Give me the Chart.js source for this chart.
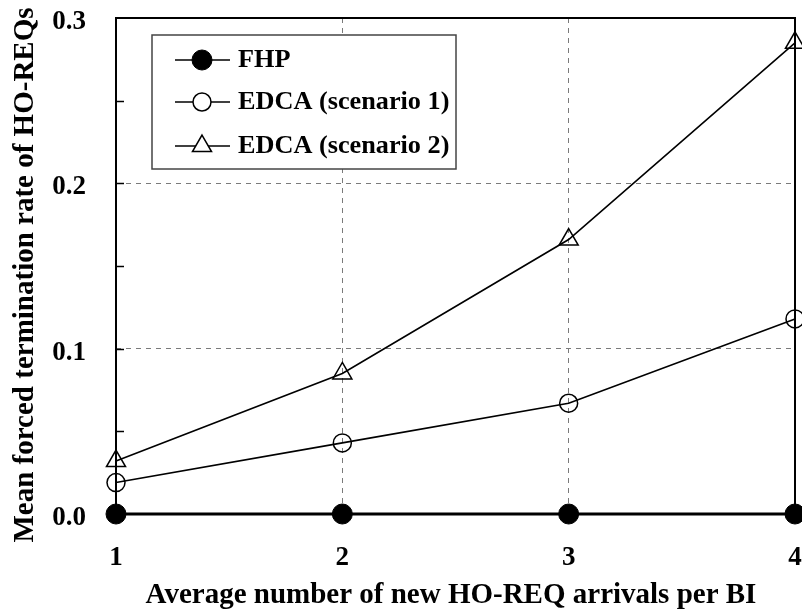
<!DOCTYPE html>
<html>
<head>
<meta charset="utf-8">
<script src="https://cdn.jsdelivr.net/npm/chart.js@4/dist/chart.umd.min.js"></script>
<style>
  html, body { margin: 0; padding: 0; background: #fff; }
  #wrap { width: 802px; height: 615px; position: relative; }
</style>
</head>
<body>
<div id="wrap"><canvas id="c" width="802" height="615"></canvas></div>
<script>
// Arrival rate per beacon interval (x) and mean forced termination rate (y)
const arrivals = [1, 2, 3, 4];
const fhp = [0, 0, 0, 0];
const edcaScenario1 = [0.019, 0.043, 0.067, 0.118];
const edcaScenario2 = [0.032, 0.085, 0.166, 0.285];
const seriesNames = ['FHP', 'EDCA (scenario 1)', 'EDCA (scenario 2)'];
const yTickValues = [0, 0.1, 0.2, 0.3];
const yTickLabels = ['0.0', '0.1', '0.2', '0.3'];
const xTickLabels = ['1', '2', '3', '4'];
const xTitle = 'Average number of new HO-REQ arrivals per BI';
const yTitle = 'Mean forced termination rate of HO-REQs';

const FONT = '"Liberation Serif", "Times New Roman", serif';

const toPoints = ys => arrivals.map((x, i) => ({ x, y: ys[i] }));

// Plot frame and inward ticks on the left axis, drawn beneath the data
const framePlugin = {
  id: 'frame',
  beforeDatasetsDraw(chart) {
    const { ctx, chartArea: a, scales } = chart;
    ctx.save();
    ctx.strokeStyle = '#000';
    ctx.lineWidth = 2;
    ctx.strokeRect(a.left, a.top, a.right - a.left, a.bottom - a.top);
    const y = scales.y;
    ctx.lineWidth = 1.5;
    for (let k = 1; k < 6; k++) {
      const py = Math.round(y.getPixelForValue(k * 0.05)) + 0.5;
      ctx.beginPath();
      ctx.moveTo(a.left, py);
      ctx.lineTo(a.left + 8, py);
      ctx.stroke();
    }
    ctx.restore();
  }
};

// Axis titles
const titlePlugin = {
  id: 'axisTitles',
  afterDraw(chart) {
    const { ctx } = chart;
    ctx.save();
    ctx.fillStyle = '#000';
    ctx.font = 'bold 29px ' + FONT;
    ctx.textAlign = 'center';
    ctx.textBaseline = 'alphabetic';
    ctx.fillText(xTitle, 451, 603);
    ctx.translate(33, 275);
    ctx.rotate(-Math.PI / 2);
    ctx.fillText(yTitle, 0, 0);
    ctx.restore();
  }
};

// Legend box with line + marker samples
const legendPlugin = {
  id: 'boxLegend',
  afterDatasetsDraw(chart) {
    const { ctx } = chart;
    const box = { x: 152, y: 35, w: 304, h: 134 };
    ctx.save();
    ctx.fillStyle = '#fff';
    ctx.fillRect(box.x, box.y, box.w, box.h);
    ctx.strokeStyle = '#444';
    ctx.lineWidth = 1.5;
    ctx.strokeRect(box.x, box.y, box.w, box.h);
    const rows = [60, 102, 146];
    chart.data.datasets.forEach((ds, i) => {
      const yy = rows[i];
      ctx.strokeStyle = '#000';
      ctx.lineWidth = 1.5;
      ctx.beginPath();
      ctx.moveTo(175, yy);
      ctx.lineTo(230, yy);
      ctx.stroke();
      ctx.fillStyle = i === 0 ? '#000' : '#fff';
      ctx.strokeStyle = '#000';
      ctx.lineWidth = ds.pointBorderWidth;
      Chart.helpers.drawPoint(ctx, {
        pointStyle: ds.pointStyle,
        radius: ds.pointRadius,
        borderWidth: ds.pointBorderWidth,
        rotation: 0
      }, 202, yy);
      ctx.save();
      ctx.fillStyle = '#000';
      ctx.font = 'bold 25px ' + FONT;
      ctx.textBaseline = 'middle';
      ctx.textAlign = 'left';
      ctx.translate(238, yy + 1);
      ctx.scale(1.05, 1);
      ctx.fillText(ds.label, 0, 0);
      ctx.restore();
    });
    ctx.restore();
  }
};

const isMid = v => Math.abs(v - 0.1) < 1e-9 || Math.abs(v - 0.2) < 1e-9;

new Chart(document.getElementById('c'), {
  type: 'line',
  data: {
    datasets: [
      {
        label: seriesNames[0],
        data: toPoints(fhp),
        borderColor: '#000',
        borderWidth: 3,
        pointStyle: 'circle',
        pointRadius: 10,
        pointBackgroundColor: '#000',
        pointBorderColor: '#000',
        pointBorderWidth: 1,
        clip: false,
        order: 3
      },
      {
        label: seriesNames[1],
        data: toPoints(edcaScenario1),
        borderColor: '#000',
        borderWidth: 1.6,
        pointStyle: 'circle',
        pointRadius: 9,
        pointBackgroundColor: 'rgba(255,255,255,0)',
        pointBorderColor: '#000',
        pointBorderWidth: 1.5,
        clip: false,
        order: 2
      },
      {
        label: seriesNames[2],
        data: toPoints(edcaScenario2),
        borderColor: '#000',
        borderWidth: 1.6,
        pointStyle: 'triangle',
        pointRadius: 11,
        pointBackgroundColor: 'rgba(255,255,255,0)',
        pointBorderColor: '#000',
        pointBorderWidth: 1.5,
        clip: false,
        order: 1
      }
    ]
  },
  options: {
    responsive: false,
    animation: false,
    events: [],
    layout: { autoPadding: false, padding: { top: 18, right: 7, left: 0, bottom: 0 } },
    plugins: { legend: { display: false }, tooltip: { enabled: false } },
    scales: {
      x: {
        type: 'linear',
        min: 1,
        max: 4,
        afterBuildTicks(s) { s.ticks = arrivals.map(v => ({ value: v })); },
        afterFit(s) {
          s.height = 101;
          s.paddingLeft = 0;
          s.paddingRight = 0;
        },
        border: { display: false, dash: [5, 5] },
        grid: {
          drawTicks: false,
          lineWidth: 1,
          color: (c) => (c.tick && (c.tick.value === 2 || c.tick.value === 3)) ? '#7a7a7a' : 'rgba(0,0,0,0)'
        },
        ticks: {
          padding: 28,
          color: '#000',
          maxRotation: 0,
          font: { family: FONT, size: 27, weight: 'bold' },
          callback: (v, i) => xTickLabels[i]
        }
      },
      y: {
        type: 'linear',
        min: 0,
        max: 0.3,
        afterBuildTicks(s) { s.ticks = yTickValues.map(v => ({ value: v })); },
        afterFit(s) {
          s.width = 116;
          s.paddingTop = 0;
          s.paddingBottom = 0;
        },
        border: { display: false, dash: [5, 5] },
        grid: {
          drawTicks: false,
          lineWidth: 1,
          color: (c) => (c.tick && isMid(c.tick.value)) ? '#7a7a7a' : 'rgba(0,0,0,0)'
        },
        ticks: {
          padding: 30,
          labelOffset: 4,
          color: '#000',
          font: { family: FONT, size: 27, weight: 'bold' },
          callback: (v, i) => yTickLabels[i]
        }
      }
    }
  },
  plugins: [framePlugin, legendPlugin, titlePlugin]
});
</script>
</body>
</html>
